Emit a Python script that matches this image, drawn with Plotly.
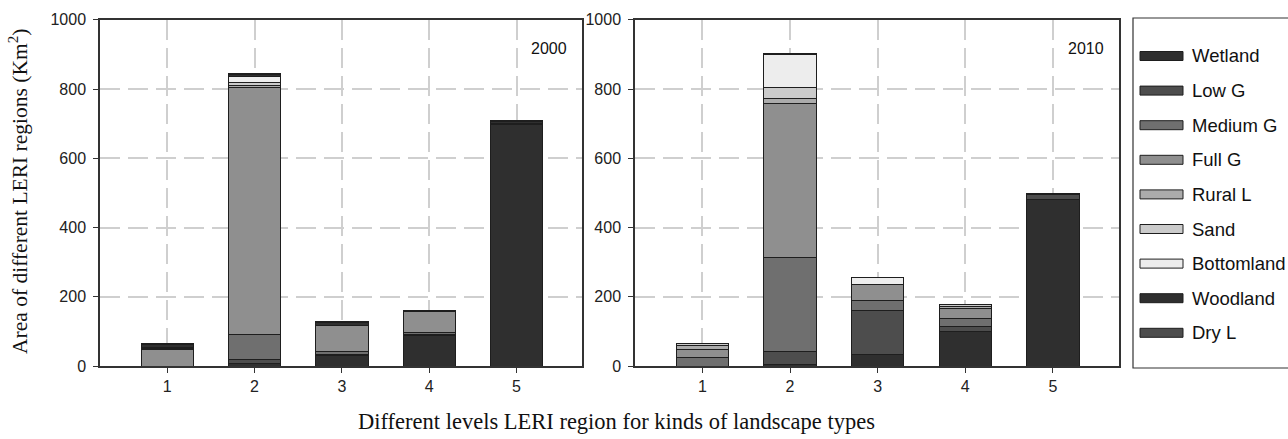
import plotly.graph_objects as go

categories = [1, 2, 3, 4, 5]
tick_labels = ["1", "2", "3", "4", "5"]
y_ticks = [0, 200, 400, 600, 800, 1000]

series_names = ["Wetland", "Low G", "Medium G", "Full G", "Rural L", "Sand",
                "Bottomland", "Woodland", "Dry L"]
series_colors = ["#2f2f2f", "#4d4d4d", "#6f6f6f", "#8f8f8f", "#ababab",
                 "#cbcbcb", "#ededed", "#2f2f2f", "#4d4d4d"]

# Year 2000 (km^2)
wetland_2000 = [0, 8, 30, 88, 697]
lowg_2000 = [0, 11, 2, 4, 0]
mediumg_2000 = [0, 73, 9, 5, 0]
fullg_2000 = [47, 713, 75, 59, 0]
rurall_2000 = [4, 5, 2, 0, 3]
sand_2000 = [3, 9, 0, 0, 0]
bottomland_2000 = [0, 17, 0, 0, 0]
woodland_2000 = [8, 6, 8, 3, 5]
dryl_2000 = [3, 2, 2, 1, 3]

# Year 2010 (km^2)
wetland_2010 = [0, 3, 33, 100, 482]
lowg_2010 = [0, 38, 126, 15, 12]
mediumg_2010 = [25, 273, 30, 23, 3]
fullg_2010 = [23, 445, 45, 29, 0]
rurall_2010 = [11, 15, 0, 4, 0]
sand_2010 = [5, 30, 2, 7, 0]
bottomland_2010 = [0, 97, 20, 0, 0]
woodland_2010 = [1, 1, 0, 0, 0]
dryl_2010 = [1, 1, 0, 0, 0]

data_2000 = [wetland_2000, lowg_2000, mediumg_2000, fullg_2000, rurall_2000,
             sand_2000, bottomland_2000, woodland_2000, dryl_2000]
data_2010 = [wetland_2010, lowg_2010, mediumg_2010, fullg_2010, rurall_2010,
             sand_2010, bottomland_2010, woodland_2010, dryl_2010]

fig = go.Figure()
for name, color, vals in zip(series_names, series_colors, data_2000):
    fig.add_trace(go.Bar(x=categories, y=vals, name=name, width=0.6,
                         marker=dict(color=color, line=dict(color="#1e1e1e", width=1)),
                         xaxis="x", yaxis="y", showlegend=False))
for name, color, vals in zip(series_names, series_colors, data_2010):
    fig.add_trace(go.Bar(x=categories, y=vals, name=name, width=0.6,
                         marker=dict(color=color, line=dict(color="#1e1e1e", width=1)),
                         xaxis="x2", yaxis="y2", showlegend=False))

W, H = 1288, 439
tick_font = dict(family="Liberation Sans, Arial, sans-serif", size=16, color="#222")
grid = dict(showgrid=True, gridcolor="#cfcfcf", gridwidth=1.5, griddash="20px,8px")

xcommon = dict(range=[0.23, 5.75], tickvals=categories, ticktext=tick_labels,
               ticks="outside", ticklen=5, tickcolor="#333", showline=True,
               linecolor="#333", linewidth=1.5, mirror=True, tickfont=tick_font,
               zeroline=False, automargin=False, **grid)
ycommon = dict(range=[0, 1000], tickvals=y_ticks, ticks="outside", ticklen=5,
               tickcolor="#333", showline=True, linecolor="#333", linewidth=1.5,
               mirror=True, tickfont=tick_font, zeroline=False, ticklabelstandoff=4,
               automargin=False, **grid)

fig.update_layout(
    width=W, height=H, barmode="stack", autosize=False,
    margin=dict(l=0, r=0, t=0, b=0, pad=0),
    paper_bgcolor="white", plot_bgcolor="white",
    xaxis=dict(domain=[100 / W, 582 / W], anchor="y", **xcommon),
    yaxis=dict(domain=[(H - 366) / H, (H - 19.8) / H], anchor="x", **ycommon),
    xaxis2=dict(domain=[635 / W, 1118.6 / W], anchor="y2", **xcommon),
    yaxis2=dict(domain=[(H - 366) / H, (H - 19.8) / H], anchor="x2", **ycommon),
    showlegend=False,
)

year_font = dict(family="Liberation Sans, Arial, sans-serif", size=16, color="#111")
annotations = [
    dict(text="2000", xref="paper", yref="paper", x=569 / W, y=(H - 48) / H,
         xanchor="right", yanchor="middle", showarrow=False, font=year_font),
    dict(text="2010", xref="paper", yref="paper", x=1106 / W, y=(H - 48) / H,
         xanchor="right", yanchor="middle", showarrow=False, font=year_font),
    dict(text="Area of different LERI regions (Km<sup>2</sup>)", xref="paper", yref="paper",
         x=18 / W, y=(H - 192) / H, textangle=-90, showarrow=False,
         xanchor="center", yanchor="middle",
         font=dict(family="Liberation Serif, Times New Roman, serif", size=21.5, color="#111")),
    dict(text="Different levels LERI region for kinds of landscape types", xref="paper",
         yref="paper", x=616 / W, y=(H - 421) / H, showarrow=False,
         xanchor="center", yanchor="middle",
         font=dict(family="Liberation Serif, Times New Roman, serif", size=22.5, color="#111")),
]

shapes = [
    dict(type="rect", xref="paper", yref="paper", x0=1133 / W, x1=1300 / W,
         y0=(H - 368) / H, y1=(H - 18) / H, line=dict(color="#333", width=1.2),
         fillcolor="rgba(0,0,0,0)", layer="below"),
]

leg_y0 = 56
leg_step = 34.6
for i, (name, color) in enumerate(zip(series_names, series_colors)):
    yc = leg_y0 + i * leg_step
    shapes.append(dict(type="rect", xref="paper", yref="paper",
                       x0=1140 / W, x1=1183 / W, y0=(H - yc - 4.5) / H, y1=(H - yc + 4.5) / H,
                       fillcolor=color, line=dict(color="#1e1e1e", width=1)))
    annotations.append(dict(text=name, xref="paper", yref="paper", x=1190 / W,
                            y=(H - yc) / H, xanchor="left", yanchor="middle", showarrow=False,
                            font=dict(family="Liberation Sans, Arial, sans-serif", size=18.5,
                                      color="#111")))

fig.update_layout(annotations=annotations, shapes=shapes)
fig.write_html("out.html", config={"displayModeBar": False},
               post_script="document.body.style.margin='0';document.body.style.overflow='hidden';")
